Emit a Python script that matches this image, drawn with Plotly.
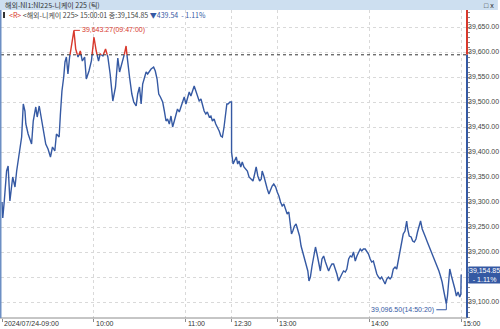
import plotly.graph_objects as go

# ---------------- data ----------------
times = [
 "09:00:00","09:00:30","09:01:30","09:03:00","09:04:00","09:05:10","09:07:00","09:08:30","09:09:35","09:10:35",
 "09:11:40","09:12:50","09:13:55","09:15:00","09:15:35","09:17:05","09:19:20","09:20:25","09:22:05","09:23:00",
 "09:24:20","09:25:50","09:27:20","09:28:35","09:30:05","09:31:40","09:33:00","09:34:30","09:35:35","09:37:20",
 "09:38:10","09:39:10","09:40:20","09:41:10","09:42:05","09:43:05","09:44:10","09:45:25","09:47:00","09:48:10",
 "09:49:40","09:51:10","09:52:30","09:54:00","09:55:05","09:56:50","09:58:25","10:00:05","10:01:35","10:03:05",
 "10:04:10","10:05:55","10:07:40","10:09:10","10:10:40","10:12:25","10:14:10","10:15:40","10:16:50","10:18:20",
 "10:20:00","10:21:05","10:22:10","10:23:20","10:24:50","10:26:05","10:27:40","10:28:40","10:29:50","10:30:55",
 "10:31:55","10:33:05","10:34:10","10:35:10","10:37:25","10:39:05","10:40:10","10:41:20","10:42:25","10:43:30",
 "10:45:00","10:46:05","10:47:10","10:48:10","10:49:20","10:50:25","10:51:30","10:52:35","10:53:40","10:54:40",
 "10:55:50","10:56:55","10:58:00","10:59:05","11:00:10","11:01:10","11:02:20","11:03:25","11:04:30","11:05:35",
 "11:06:40","11:07:40","11:08:50","11:10:00","11:11:00","11:12:05","11:13:10","11:14:10","11:15:25","11:16:30",
 "11:17:30","11:18:35","11:19:40","11:20:50","11:21:55","11:23:00","11:24:00","11:25:05","11:26:10","11:26:55",
 "11:27:40","11:29:00","11:30:00",
 "12:30:00","12:31:00","12:32:20","12:33:05","12:34:00","12:34:55","12:36:00","12:37:00","12:38:05","12:39:10",
 "12:40:20","12:41:25","12:42:55","12:44:00","12:45:05","12:46:05","12:47:10","12:48:20","12:49:25","12:50:00",
 "12:51:05","12:52:10","12:53:20","12:54:25","12:55:30","12:56:30","12:57:35","12:58:50","12:59:50","13:00:55",
 "13:02:00","13:03:05","13:04:10","13:05:20","13:06:20","13:07:25","13:08:30","13:09:10","13:10:00","13:11:05",
 "13:12:10","13:13:20","13:14:25","13:15:25","13:16:30","13:17:35","13:18:40","13:19:50","13:20:35","13:21:30",
 "13:22:35","13:23:40","13:24:50","13:25:50","13:26:55","13:28:00","13:29:05","13:30:10","13:31:20","13:32:20",
 "13:33:25","13:34:30","13:35:35","13:36:40","13:37:50","13:38:50","13:39:55","13:41:00","13:42:05","13:43:10",
 "13:44:20","13:45:20","13:46:30","13:47:35","13:48:35","13:49:40","13:50:50","13:51:55","13:53:00","13:54:05",
 "13:55:05","13:56:10","13:57:20","13:58:25","13:59:30","14:00:35","14:01:35","14:02:40","14:03:50","14:04:55",
 "14:06:00","14:07:05","14:08:05","14:09:10","14:10:20","14:11:25","14:12:30","14:13:35","14:14:35","14:15:40",
 "14:16:50","14:17:55","14:19:00","14:20:05","14:21:05","14:22:10","14:23:20","14:24:25","14:25:05","14:26:05",
 "14:27:20","14:28:20","14:29:25","14:30:30","14:31:30","14:32:35","14:33:30","14:34:35","14:35:40","14:36:40",
 "14:37:55","14:39:00","14:40:00","14:41:05","14:42:10","14:43:20","14:44:25","14:45:30","14:46:30","14:47:35",
 "14:48:40","14:49:50","14:50:20","14:51:05","14:52:00","14:52:35","14:53:40","14:54:50","14:55:55","14:56:55",
 "14:58:00","14:59:05","14:59:50","15:00:01",
]
prices = [
 39300,39268,39302,39362,39372,39302,39350,39330,39362,39382,
 39402,39430,39496,39482,39456,39436,39416,39462,39490,39470,
 39492,39466,39442,39416,39406,39390,39410,39402,39436,39430,
 39476,39522,39550,39580,39590,39556,39590,39610,39643.27,39606,
 39590,39602,39582,39590,39546,39562,39582,39630,39602,39582,
 39596,39592,39606,39590,39556,39502,39530,39588,39560,39580,
 39596,39612,39578,39550,39516,39500,39492,39516,39530,39496,
 39536,39550,39560,39556,39566,39570,39562,39546,39516,39510,
 39500,39482,39462,39466,39456,39472,39450,39462,39472,39486,
 39480,39490,39500,39510,39496,39510,39520,39512,39522,39532,
 39522,39510,39502,39506,39492,39482,39476,39480,39470,39472,
 39462,39466,39456,39450,39442,39432,39430,39450,39476,39496,
 39496,39500,39500,
 39400,39376,39386,39390,39376,39382,39370,39380,39370,39366,
 39362,39350,39346,39342,39356,39370,39352,39342,39346,39362,
 39352,39336,39326,39316,39326,39332,39336,39330,39320,39312,
 39300,39292,39296,39286,39276,39280,39256,39236,39242,39252,
 39256,39242,39232,39212,39200,39192,39180,39162,39142,39150,
 39172,39192,39210,39196,39176,39162,39186,39192,39180,39172,
 39162,39170,39176,39176,39166,39156,39142,39150,39156,39162,
 39160,39166,39186,39192,39190,39200,39182,39192,39200,39206,
 39202,39206,39206,39200,39196,39186,39180,39182,39166,39156,
 39150,39146,39150,39142,39136,39146,39150,39146,39150,39166,
 39170,39166,39182,39200,39220,39236,39242,39262,39246,39232,
 39230,39222,39220,39226,39240,39250,39262,39246,39236,39230,
 39220,39212,39202,39196,39186,39180,39170,39162,39152,39140,
 39122,39106,39096.50,39112,39146,39166,39152,39140,39126,39112,
 39120,39110,39116,39154.85,
]
prev_close = 39594.39
last_price = 39154.85
change = -439.54
change_pct = -1.11
high_time, high_val = "09:47:00", 39643.27
low_time, low_val = "14:50:20", 39096.50

tick_times = ["09:00:00", "10:00:00", "11:00:00", "12:30:00", "13:00:00", "14:00:00", "15:00:00"]
tick_labels = ["2024/07/24-09:00", "10:00", "11:00", "12:30", "13:00", "14:00", "15:00"]
y_ticks = [39100, 39150, 39200, 39250, 39300, 39350, 39400, 39450, 39500, 39550, 39600, 39650]
hidden_y_label = 39150  # covered by the last-price tag in the original

# ---------------- helpers ----------------
def to_x(t):
    h, m, s = [int(v) for v in t.split(":")]
    mins = h * 60 + m + s / 60 - 540
    if mins > 150:  # lunch break 11:30-12:30 removed
        mins -= 60
    return mins

xs = [to_x(t) for t in times]
ys = prices

bx, by, rx, ry = [], [], [], []
for i in range(len(xs)):
    if i > 0 and (ys[i - 1] - prev_close) * (ys[i] - prev_close) < 0:
        f = (prev_close - ys[i - 1]) / (ys[i] - ys[i - 1])
        xc = xs[i - 1] + f * (xs[i] - xs[i - 1])
        bx.append(xc); by.append(prev_close)
        rx.append(xc); ry.append(prev_close)
    if ys[i] >= prev_close:
        rx.append(xs[i]); ry.append(ys[i])
        bx.append(xs[i]); by.append(None)
    else:
        bx.append(xs[i]); by.append(ys[i])
        rx.append(xs[i]); ry.append(None)

BLUE = "#3559a3"
RED = "#d8382c"
GRID = "#d9d9d9"
NUMFONT = "Liberation Sans"
KFONT = "Noto Sans CJK KR"

fig = go.Figure()
fig.add_trace(go.Scatter(x=bx, y=by, mode="lines", line=dict(color=BLUE, width=1.4),
                         connectgaps=False, hoverinfo="skip", showlegend=False))
fig.add_trace(go.Scatter(x=rx, y=ry, mode="lines", line=dict(color=RED, width=1.4),
                         connectgaps=False, hoverinfo="skip", showlegend=False))

W, H = 500, 329
ml, mr, mt, mb = 1, 31, 10, 11
pw, ph = W - ml - mr, H - mt - mb

x0 = to_x("09:00:00")
px_per_min = 1.537
xr = [x0 - 1 / px_per_min, x0 + (pw - 1) / px_per_min]
yr = [39068, 39068 + ph * 2.0]

shapes = []
shapes.append(dict(type="line", xref="paper", yref="y", x0=0, x1=1, y0=prev_close, y1=prev_close,
                   line=dict(color="#333333", width=1, dash="dot")))
shapes.append(dict(type="line", xref="paper", yref="y", x0=1, x1=1, y0=prev_close, y1=yr[1],
                   line=dict(color=RED, width=2)))
shapes.append(dict(type="line", xref="paper", yref="y", x0=1, x1=1, y0=yr[0], y1=prev_close,
                   line=dict(color=BLUE, width=2)))
shapes.append(dict(type="line", xref="paper", yref="paper", x0=-1 / pw, x1=1, y0=0, y1=0,
                   line=dict(color="#8c8c8c", width=1)))
shapes.append(dict(type="line", xref="paper", yref="paper", x0=-0.5 / pw, x1=-0.5 / pw, y0=0, y1=1,
                   line=dict(color="#6d8fc4", width=2)))
shapes.append(dict(type="rect", xref="paper", yref="paper", x0=-1 / pw, x1=(W - ml) / pw,
                   y0=1, y1=1 + mt / ph, fillcolor="#cddff0", line=dict(width=0), layer="above"))
shapes.append(dict(type="rect", xref="paper", yref="paper", x0=2 / pw, x1=4 / pw,
                   y0=1 - 2 / ph, y1=1 - 8 / ph, fillcolor="#333333", line=dict(width=0)))
shapes.append(dict(type="path", xref="x", yref="y", xsizemode="pixel", ysizemode="pixel",
                   xanchor=to_x(low_time), yanchor=low_val,
                   path="M 0,0 L 0,-6 L -10,-6", line=dict(color=BLUE, width=1)))

annotations = []
annotations.append(dict(text="해외-NI1:NI225-니케이 225 (틱)", xref="paper", yref="paper",
                        x=2 / pw, y=1 + 5 / ph, xanchor="left", yanchor="middle", showarrow=False,
                        font=dict(family=KFONT, size=7, color="#333333")))
annotations.append(dict(text="□ x", xref="paper", yref="paper", x=(W - ml - 2) / pw, y=1 + 5 / ph,
                        xanchor="right", yanchor="middle", showarrow=False,
                        font=dict(family=NUMFONT, size=7, color="#222222")))
leg = ("<span style='color:%s'>&lt;R&gt;</span> &lt;해외-니케이 225&gt; 15:00:01 종:%s "
       "<span style='color:%s'>▼%s  - %.2f%%</span>" %
       (RED, f"{last_price:,.2f}", BLUE, f"{abs(change):,.2f}", abs(change_pct)))
annotations.append(dict(text=leg, xref="paper", yref="paper", x=6 / pw, y=1 - 5 / ph,
                        xanchor="left", yanchor="middle", showarrow=False,
                        font=dict(family=KFONT, size=7, color="#444444")))
annotations.append(dict(text=f"{high_val:,.2f}({high_time})", x=to_x(high_time), y=high_val,
                        xref="x", yref="y", ax=6, ay=0, xanchor="left", yanchor="middle",
                        showarrow=True, arrowhead=0, arrowwidth=1, arrowcolor=RED, standoff=0,
                        font=dict(family=NUMFONT, size=7, color=RED)))
annotations.append(dict(text=f"{low_val:,.2f}({low_time})", x=to_x(low_time), y=low_val,
                        xref="x", yref="y", xshift=-10, yshift=-6, xanchor="right", yanchor="middle",
                        showarrow=False, font=dict(family=NUMFONT, size=7, color=BLUE)))
annotations.append(dict(text=f"{last_price:,.2f}<br>- {abs(change_pct):.2f}%", xref="paper", yref="y",
                        x=1 + 1 / pw, y=last_price, xanchor="left", yanchor="middle", showarrow=False,
                        bgcolor=BLUE, borderpad=0, align="center",
                        font=dict(family=NUMFONT, size=7, color="white")))
for t, lab in zip(tick_times, tick_labels):
    annotations.append(dict(text=lab, x=to_x(t), xref="x", y=-5.5 / ph, yref="paper",
                            xanchor="left", yanchor="middle", showarrow=False,
                            font=dict(family=NUMFONT, size=7, color="#333333")))

fig.update_layout(
    width=W, height=H,
    margin=dict(l=ml, r=mr, t=mt, b=mb, pad=0),
    paper_bgcolor="white", plot_bgcolor="white",
    showlegend=False,
    shapes=shapes, annotations=annotations,
    xaxis=dict(range=xr, tickvals=[to_x(t) for t in tick_times], showticklabels=False,
               ticks="outside", ticklen=3, tickcolor="#8c8c8c", tickwidth=1,
               showgrid=True, gridcolor=GRID, griddash="dot", gridwidth=1,
               zeroline=False, showline=False, fixedrange=True),
    yaxis=dict(range=yr, side="right", tickvals=y_ticks,
               ticktext=["" if v == hidden_y_label else f"{v:,.2f}" for v in y_ticks],
               ticks="", showgrid=True, gridcolor=GRID, griddash="dot", gridwidth=1,
               zeroline=False, showline=False,
               tickfont=dict(family=NUMFONT, size=7, color="#444444"),
               minor=dict(ticks="outside", ticklen=2, dtick=10, tickcolor="#8c8c8c", showgrid=False),
               fixedrange=True),
)

fig.write_html("out.html")
